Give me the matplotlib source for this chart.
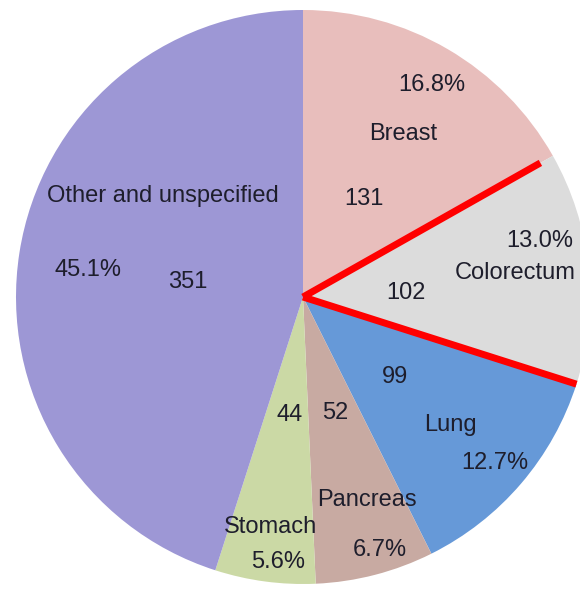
import numpy as np
import matplotlib.pyplot as plt

# data
sites = ['Breast', 'Colorectum', 'Lung', 'Pancreas', 'Stomach', 'Other and unspecified']
counts = [131, 102, 99, 52, 44, 351]
percents = ['16.8%', '13.0%', '12.7%', '6.7%', '5.6%', '45.1%']
colors = ['#e8bebc', '#dcdcdc', '#6699d8', '#c8aaa2', '#cbd9a5', '#9d97d5']

W, H = 580, 589
cx, cy = 303, 297      # pie centre in pixels (from top-left)
R = 287

# label placement (pixel centres, top-left origin): name, count, percent
name_pos = [(403, 134), (515, 273), (450, 425), (367, 500), (271, 527), (163, 196)]
count_pos = [(364, 199), (406, 293), (395, 377), (335, 413), (290, 415), (188, 282)]
pct_pos = [(432, 85), (540, 241), (495, 463), (380, 550), (278, 562), (88, 270)]

fig = plt.figure(figsize=(W / 100, H / 100), dpi=100)
ax = fig.add_axes([0, 0, 1, 1])


def px(x, y):
    return x, H - y


wedges, _ = ax.pie(counts, colors=colors, startangle=90, counterclock=False,
                   center=px(cx, cy), radius=R, frame=True,
                   wedgeprops=dict(linewidth=0))
ax.set_xlim(0, W)
ax.set_ylim(0, H)
ax.set_aspect('equal')
ax.axis('off')

txt = dict(ha='center', va='center', fontsize=17, color='#1e1e2c',
           family=['Liberation Sans', 'DejaVu Sans'])
for i in range(len(sites)):
    ax.text(*px(*name_pos[i]), sites[i], **txt)
    ax.text(*px(*count_pos[i]), str(counts[i]), **txt)
    ax.text(*px(*pct_pos[i]), percents[i], **txt)

# red outline on the colorectum wedge edges
w = wedges[1]
c0 = px(cx, cy)
for ang, frac in [(w.theta2, 0.95), (w.theta1, 1.0)]:
    a = np.deg2rad(ang)
    ax.plot([c0[0], c0[0] + frac * R * np.cos(a)], [c0[1], c0[1] + frac * R * np.sin(a)],
            color='#ff0000', lw=5, solid_capstyle='butt', zorder=5)

fig.savefig('out.png', dpi=100)
